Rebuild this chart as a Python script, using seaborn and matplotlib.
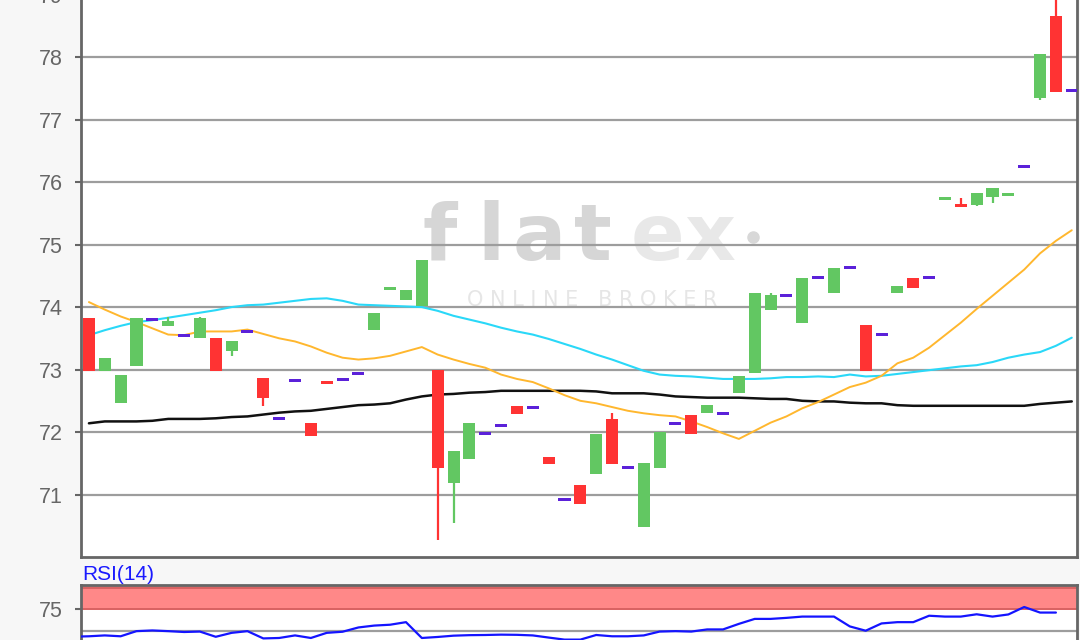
import matplotlib
matplotlib.use("Agg")
import matplotlib.pyplot as plt
import seaborn as sns
import numpy as np
import pandas as pd

# ---------------- data ----------------
opens = [73.82, 72.97, 72.47, 73.06, 73.80, 73.69, 73.54, 73.51, 73.50, 73.29,
         73.61, 72.86, 72.21, 72.82, 72.15, 72.81, 72.84, 72.94, 73.64, 74.29,
         74.12, 74.01, 73.00, 71.19, 71.57, 71.97, 72.10, 72.41, 72.39, 71.60,
         70.92, 71.16, 71.33, 72.21, 71.43, 70.48, 71.43, 72.13, 72.28, 72.31,
         72.30, 72.63, 72.94, 73.96, 74.19, 73.74, 74.48, 74.22, 74.63, 73.72,
         73.56, 74.22, 74.46, 74.48, 75.73, 75.64, 75.64, 75.76, 75.79, 76.25,
         77.34, 78.66, 77.46]
closes = [72.97, 73.18, 72.92, 73.82, 73.80, 73.78, 73.54, 73.82, 72.97, 73.46,
          73.61, 72.55, 72.21, 72.82, 71.94, 72.78, 72.84, 72.94, 73.91, 74.31,
          74.27, 74.75, 71.43, 71.70, 72.15, 71.97, 72.10, 72.29, 72.39, 71.49,
          70.92, 70.85, 71.97, 71.49, 71.43, 71.51, 72.00, 72.13, 71.97, 72.44,
          72.30, 72.89, 74.23, 74.20, 74.19, 74.46, 74.48, 74.62, 74.63, 72.97,
          73.56, 74.33, 74.31, 74.48, 75.75, 75.60, 75.83, 75.90, 75.81, 76.25,
          78.05, 77.44, 77.46]
highs = [73.82, 73.18, 72.92, 73.82, 73.80, 73.84, 73.54, 73.84, 73.50, 73.46,
         73.61, 72.86, 72.21, 72.82, 72.15, 72.81, 72.84, 72.94, 73.91, 74.31,
         74.27, 74.75, 73.00, 71.70, 72.15, 71.97, 72.10, 72.41, 72.39, 71.60,
         70.92, 71.16, 71.97, 72.31, 71.43, 71.51, 72.00, 72.13, 72.28, 72.44,
         72.30, 72.89, 74.23, 74.23, 74.19, 74.46, 74.48, 74.62, 74.63, 73.72,
         73.56, 74.33, 74.46, 74.48, 75.75, 75.74, 75.83, 75.90, 75.81, 76.25,
         78.05, 79.10, 77.46]
lows = [72.97, 72.97, 72.47, 73.06, 73.80, 73.69, 73.54, 73.51, 72.97, 73.21,
        73.61, 72.42, 72.21, 72.82, 71.94, 72.78, 72.84, 72.94, 73.64, 74.29,
        74.12, 74.01, 70.28, 70.55, 71.57, 71.97, 72.10, 72.29, 72.39, 71.49,
        70.92, 70.85, 71.33, 71.49, 71.43, 70.48, 71.43, 72.13, 71.97, 72.31,
        72.30, 72.63, 72.94, 73.96, 74.19, 73.74, 74.48, 74.22, 74.63, 72.97,
        73.56, 74.22, 74.31, 74.48, 75.73, 75.60, 75.61, 75.66, 75.79, 76.25,
        77.31, 77.44, 77.46]

ma_orange = [74.08, 73.96, 73.85, 73.76, 73.66, 73.56, 73.55, 73.61, 73.61, 73.61,
             73.64, 73.57, 73.50, 73.45, 73.37, 73.27, 73.19, 73.16, 73.18, 73.22,
             73.29, 73.36, 73.24, 73.16, 73.09, 73.03, 72.92, 72.85, 72.80, 72.70,
             72.59, 72.50, 72.46, 72.40, 72.34, 72.30, 72.27, 72.25, 72.17, 72.08,
             71.98, 71.89, 72.02, 72.15, 72.25, 72.38, 72.48, 72.60, 72.72, 72.79,
             72.90, 73.10, 73.19, 73.35, 73.55, 73.75, 73.97, 74.18, 74.39, 74.60,
             74.86, 75.06, 75.23]
ma_cyan = [73.55, 73.63, 73.70, 73.76, 73.79, 73.83, 73.87, 73.91, 73.95, 74.00,
           74.03, 74.04, 74.07, 74.10, 74.13, 74.14, 74.10, 74.04, 74.03, 74.02,
           74.01, 74.00, 73.94, 73.86, 73.80, 73.74, 73.67, 73.61, 73.56, 73.49,
           73.41, 73.33, 73.24, 73.16, 73.07, 72.98, 72.92, 72.90, 72.89, 72.87,
           72.85, 72.85, 72.85, 72.86, 72.88, 72.88, 72.89, 72.88, 72.92, 72.89,
           72.90, 72.93, 72.96, 72.99, 73.02, 73.05, 73.07, 73.12, 73.19, 73.24,
           73.28, 73.38, 73.51]
ma_black = [72.14, 72.17, 72.17, 72.17, 72.18, 72.21, 72.21, 72.21, 72.22, 72.24,
            72.25, 72.28, 72.31, 72.33, 72.34, 72.37, 72.40, 72.43, 72.44, 72.46,
            72.52, 72.57, 72.60, 72.61, 72.63, 72.64, 72.66, 72.66, 72.66, 72.66,
            72.66, 72.66, 72.65, 72.62, 72.62, 72.62, 72.60, 72.57, 72.56, 72.55,
            72.55, 72.55, 72.54, 72.53, 72.53, 72.50, 72.49, 72.49, 72.47, 72.46,
            72.46, 72.43, 72.42, 72.42, 72.42, 72.42, 72.42, 72.42, 72.42, 72.42,
            72.45, 72.47, 72.49]
rsi = [43.0, 43.5, 44.5, 43.5, 49.5, 50.3, 49.5, 48.5, 49.0, 42.9,
       47.5, 49.5, 41.0, 41.5, 44.5, 41.5, 47.5, 48.8, 53.8, 56.0,
       57.0, 60.0, 41.5, 42.7, 44.2, 44.8, 45.0, 45.4, 45.2, 44.5,
       42.0, 39.6, 39.6, 45.0, 43.5, 43.5, 44.5, 49.0, 49.5, 49.0,
       51.5, 51.5, 58.0, 63.8, 63.8, 65.0, 66.5, 66.5, 66.5, 55.0,
       50.0, 58.5, 60.0, 60.0, 67.5, 66.5, 66.5, 69.2, 66.5, 69.0,
       77.7, 71.2, 71.2]

price_ticks = [71, 72, 73, 74, 75, 76, 77, 78, 79]
rsi_ticks = [75]
rsi_label = "RSI(14)"

# ---------------- style ----------------
sns.set_theme(style="white")
plt.rcParams["font.family"] = ["Liberation Sans", "DejaVu Sans"]

GREEN = "#62c762"
RED = "#ff3333"
PURPLE = "#5b21d9"
GRID = "#9d9d9d"
SPINE = "#666666"

W, H = 1080, 640
fig = plt.figure(figsize=(W / 100, H / 100), dpi=100, facecolor="#f7f7f7")

ax = fig.add_axes([81 / W, 1 - 557 / H, 996 / W, (557 + 67.8) / H])
ax2 = fig.add_axes([81 / W, 1 - 673.5 / H, 996 / W, 89 / H])

df = pd.DataFrame({"o": opens, "c": closes, "h": highs, "l": lows,
                   "ma1": ma_orange, "ma2": ma_cyan, "ma3": ma_black, "rsi": rsi})
df["x"] = np.arange(len(df))

# ---------------- main panel ----------------
ax.set_facecolor("white")
ax.set_xlim(-0.5, 62.33)
ax.set_ylim(70, 80)
ax.set_yticks(price_ticks)
ax.set_xticks([])
ax.yaxis.grid(True, color=GRID, lw=1.6)
ax.set_axisbelow(True)
ax.tick_params(axis="y", length=4, width=1.5, color=SPINE, labelcolor=SPINE,
               labelsize=15.5, pad=9, left=True)
for s in ax.spines.values():
    s.set_color(SPINE)
    s.set_linewidth(2)

# watermark
wm_f = dict(transform=fig.transFigure, fontsize=57, fontweight="bold",
            family="DejaVu Sans", ha="center", va="baseline", zorder=0.1)
for ch, xp, col in [("f", 440, "#d6d6d6"), ("l", 491, "#d6d6d6"), ("a", 539, "#d6d6d6"),
                    ("t", 593, "#d6d6d6"), ("e", 658, "#e8e8e8"), ("x", 710, "#e8e8e8")]:
    ax.text(xp / W, 1 - 260 / H, ch, color=col, **wm_f)
ax.plot([753 / W], [1 - 237 / H], "o", ms=8, color="#d8d8d8",
        transform=fig.transFigure, zorder=0.1, clip_on=False)
ax.text(592 / W, 1 - 300 / H, "O N L I N E   B R O K E R", transform=fig.transFigure,
        fontsize=15, color="#e6e6e6", ha="center", va="center",
        family="DejaVu Sans", zorder=0.1)

# moving averages (seaborn)
sns.lineplot(data=df, x="x", y="ma3", ax=ax, color="#111111", lw=1.8, zorder=3)
sns.lineplot(data=df, x="x", y="ma2", ax=ax, color="#2ad8f8", lw=1.5, zorder=3)
sns.lineplot(data=df, x="x", y="ma1", ax=ax, color="#ffb72e", lw=1.4, zorder=3)

# candles
bw = 0.76
for _, r in df.iterrows():
    x = r["x"]
    if r["o"] == r["c"] and r["h"] == r["l"]:
        ax.bar(x, 0.048, bottom=r["o"] - 0.024, width=bw, color=PURPLE, lw=0, zorder=4)
        continue
    col = GREEN if r["c"] >= r["o"] else RED
    lo, hi = min(r["o"], r["c"]), max(r["o"], r["c"])
    if r["h"] > hi or r["l"] < lo:
        ax.vlines(x, r["l"], r["h"], color=col, lw=1.6, zorder=4)
    hgt = hi - lo
    if hgt < 0.05:
        mid = (hi + lo) / 2
        lo, hgt = mid - 0.025, 0.05
    ax.bar(x, hgt, bottom=lo, width=bw, color=col, lw=0, zorder=5)

ax.set_xlabel("")
ax.set_ylabel("")

# ---------------- RSI panel ----------------
ax2.set_facecolor("white")
ax2.set_xlim(-0.5, 62.33)
ax2.set_ylim(0, 104)
ax2.axhspan(74, 104, color="#ff8888", lw=0, zorder=1)
ax2.axhline(75, color="#d86262", lw=1.4, zorder=1.5)
ax2.axhline(100, color="#d86262", lw=1.4, zorder=1.5)
ax2.axhline(50, color=GRID, lw=1.6, zorder=1.5)
df["xr"] = df["x"] - 1
sns.lineplot(data=df, x="xr", y="rsi", ax=ax2, color="#1414ff", lw=1.6, zorder=3)
ax2.set_yticks(rsi_ticks)
ax2.set_xticks([])
ax2.tick_params(axis="y", length=4, width=1.5, color=SPINE, labelcolor=SPINE,
                labelsize=15.5, pad=9, left=True)
for s in ax2.spines.values():
    s.set_color(SPINE)
    s.set_linewidth(2)
ax2.set_xlabel("")
ax2.set_ylabel("")

fig.text(82 / W, 1 - 574 / H, rsi_label, color="#1a1aff", fontsize=15,
         ha="left", va="center")

fig.savefig("out.png", dpi=100, facecolor=fig.get_facecolor())
